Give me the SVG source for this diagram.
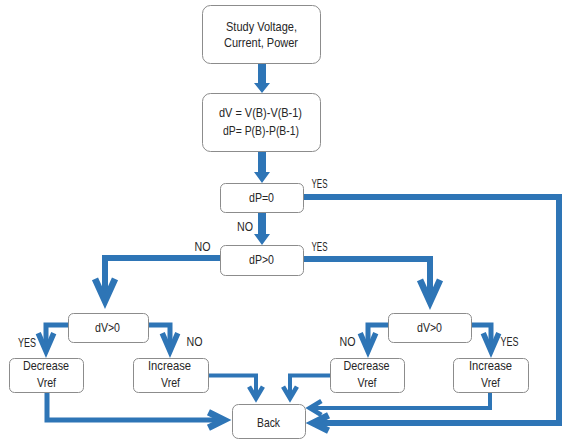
<svg xmlns="http://www.w3.org/2000/svg" width="563" height="440" viewBox="0 0 563 440">
  <style>
    .box { fill: #ffffff; stroke: #8c8c8c; stroke-width: 1; }
    .lbl { font-family: "Liberation Sans", Arial, sans-serif; font-size: 13px; fill: #262626; text-anchor: middle; }
    .flow { fill: none; stroke: #2e75b6; stroke-linejoin: miter; stroke-linecap: butt; }
    .w6 { stroke-width: 6; }
    .w5 { stroke-width: 5; }
    .w4 { stroke-width: 4; }
    .block { fill: #2e75b6; }
  </style>
  <defs>
    <!-- open chevron heads; the tip sits a few units past the line end -->
    <marker id="headL" markerUnits="userSpaceOnUse" orient="auto" refX="-7" refY="0" markerWidth="40" markerHeight="40" viewBox="-30 -15 36 30" overflow="visible">
      <path d="M-27,-9 L-7,0 L-27,9" fill="none" stroke="#2e75b6" stroke-width="6" stroke-linejoin="miter" stroke-miterlimit="10"/>
    </marker>
    <marker id="headW" markerUnits="userSpaceOnUse" orient="auto" refX="-7" refY="0" markerWidth="40" markerHeight="40" viewBox="-30 -15 36 30" overflow="visible">
      <path d="M-21,-7 L-7,0 L-21,7" fill="none" stroke="#2e75b6" stroke-width="6" stroke-linejoin="miter" stroke-miterlimit="10"/>
    </marker>
    <marker id="headM" markerUnits="userSpaceOnUse" orient="auto" refX="-6" refY="0" markerWidth="40" markerHeight="40" viewBox="-30 -15 36 30" overflow="visible">
      <path d="M-22,-7 L-6,0 L-22,7" fill="none" stroke="#2e75b6" stroke-width="5" stroke-linejoin="miter" stroke-miterlimit="10"/>
    </marker>
    <marker id="headS" markerUnits="userSpaceOnUse" orient="auto" refX="-5" refY="0" markerWidth="30" markerHeight="30" viewBox="-20 -10 26 20" overflow="visible">
      <path d="M-14,-6 L-4,0 L-14,6" fill="none" stroke="#2e75b6" stroke-width="4" stroke-linejoin="miter" stroke-miterlimit="10"/>
    </marker>
  </defs>

  <!-- connectors -->
  <g id="connectors">
    <!-- solid block arrows down the main column -->
    <path class="block" d="M258,63 H266 V83 H270 L262,93 L254,83 H258 Z"/>
    <path class="block" d="M258,152 H266 V172 H270 L262,183 L254,172 H258 Z"/>
    <path class="block" d="M258,212 H266 V234 H270 L262,245 L254,234 H258 Z"/>

    <!-- dP=0 YES: straight to Back -->
    <path class="flow w6" d="M303,197 H559 V423 H313" marker-end="url(#headW)"/>

    <!-- dP>0 branches -->
    <path class="flow w6" d="M220,258 H105 V301" marker-end="url(#headL)"/>
    <path class="flow w6" d="M303,259 H430 V302" marker-end="url(#headL)"/>

    <!-- dV>0 branches, left -->
    <path class="flow w5" d="M68,325 H46 V351" marker-end="url(#headM)"/>
    <path class="flow w5" d="M148,325 H170 V351" marker-end="url(#headM)"/>
    <!-- dV>0 branches, right -->
    <path class="flow w5" d="M388,325 H368 V351" marker-end="url(#headM)"/>
    <path class="flow w5" d="M471,325 H491 V351" marker-end="url(#headM)"/>

    <!-- Vref updates into Back -->
    <path class="flow w5" d="M47,392 V420 H224" marker-end="url(#headW)"/>
    <path class="flow w4" d="M208,375.5 H256 V397" marker-end="url(#headS)"/>
    <path class="flow w4" d="M330,375.5 H290 V397" marker-end="url(#headS)"/>
    <path class="flow w4" d="M490,392 V408 H311" marker-end="url(#headS)"/>
  </g>

  <!-- branch labels -->
  <g id="labels">
    <text class="lbl" x="319.5" y="188" textLength="16" lengthAdjust="spacingAndGlyphs">YES</text>
    <text class="lbl" x="245" y="231" textLength="16" lengthAdjust="spacingAndGlyphs">NO</text>
    <text class="lbl" x="202.5" y="251" textLength="16" lengthAdjust="spacingAndGlyphs">NO</text>
    <text class="lbl" x="319.5" y="251" textLength="16" lengthAdjust="spacingAndGlyphs">YES</text>
    <text class="lbl" x="27" y="347" textLength="18" lengthAdjust="spacingAndGlyphs">YES</text>
    <text class="lbl" x="194.5" y="346" textLength="16" lengthAdjust="spacingAndGlyphs">NO</text>
    <text class="lbl" x="347.5" y="346" textLength="16" lengthAdjust="spacingAndGlyphs">NO</text>
    <text class="lbl" x="509.5" y="346" textLength="18" lengthAdjust="spacingAndGlyphs">YES</text>
  </g>

  <!-- nodes -->
  <g id="node-study">
    <rect class="box" x="202.5" y="5.5" width="118" height="58" rx="8"/>
    <text class="lbl" x="261.5" y="30.5" textLength="71" lengthAdjust="spacingAndGlyphs">Study Voltage,</text>
    <text class="lbl" x="261" y="47" textLength="74" lengthAdjust="spacingAndGlyphs">Current, Power</text>
  </g>
  <g id="node-delta">
    <rect class="box" x="202.5" y="93.5" width="118" height="58" rx="8"/>
    <text class="lbl" x="260.5" y="117" textLength="83" lengthAdjust="spacingAndGlyphs">dV = V(B)-V(B-1)</text>
    <text class="lbl" x="261" y="135" textLength="76" lengthAdjust="spacingAndGlyphs">dP= P(B)-P(B-1)</text>
  </g>
  <g id="node-dp-zero">
    <rect class="box" x="220.5" y="183.5" width="83" height="29" rx="5"/>
    <text class="lbl" x="261.5" y="202" textLength="25" lengthAdjust="spacingAndGlyphs">dP=0</text>
  </g>
  <g id="node-dp-pos">
    <rect class="box" x="220.5" y="245.5" width="83" height="30" rx="5"/>
    <text class="lbl" x="261.5" y="264" textLength="25" lengthAdjust="spacingAndGlyphs">dP&gt;0</text>
  </g>
  <g id="node-dv-left">
    <rect class="box" x="68.5" y="313.5" width="80" height="29" rx="5"/>
    <text class="lbl" x="107.5" y="332" textLength="25" lengthAdjust="spacingAndGlyphs">dV&gt;0</text>
  </g>
  <g id="node-dv-right">
    <rect class="box" x="388.5" y="313.5" width="83" height="29" rx="5"/>
    <text class="lbl" x="429.5" y="332" textLength="25" lengthAdjust="spacingAndGlyphs">dV&gt;0</text>
  </g>
  <g id="node-dec-left">
    <rect class="box" x="9.5" y="358.5" width="74" height="34" rx="5"/>
    <text class="lbl" x="46" y="370" textLength="46" lengthAdjust="spacingAndGlyphs">Decrease</text>
    <text class="lbl" x="46.5" y="387" textLength="19" lengthAdjust="spacingAndGlyphs">Vref</text>
  </g>
  <g id="node-inc-left">
    <rect class="box" x="133.5" y="358.5" width="75" height="34" rx="5"/>
    <text class="lbl" x="169.5" y="370" textLength="43" lengthAdjust="spacingAndGlyphs">Increase</text>
    <text class="lbl" x="170.5" y="387" textLength="19" lengthAdjust="spacingAndGlyphs">Vref</text>
  </g>
  <g id="node-dec-right">
    <rect class="box" x="330.5" y="358.5" width="74" height="34" rx="5"/>
    <text class="lbl" x="366.5" y="370" textLength="46" lengthAdjust="spacingAndGlyphs">Decrease</text>
    <text class="lbl" x="367" y="387" textLength="19" lengthAdjust="spacingAndGlyphs">Vref</text>
  </g>
  <g id="node-inc-right">
    <rect class="box" x="453.5" y="358.5" width="75" height="34" rx="5"/>
    <text class="lbl" x="490.5" y="370" textLength="43" lengthAdjust="spacingAndGlyphs">Increase</text>
    <text class="lbl" x="490.5" y="387" textLength="19" lengthAdjust="spacingAndGlyphs">Vref</text>
  </g>
  <g id="node-back">
    <rect class="box" x="232.5" y="404.5" width="73" height="34" rx="6"/>
    <text class="lbl" x="268.5" y="427" textLength="23" lengthAdjust="spacingAndGlyphs">Back</text>
  </g>
</svg>
